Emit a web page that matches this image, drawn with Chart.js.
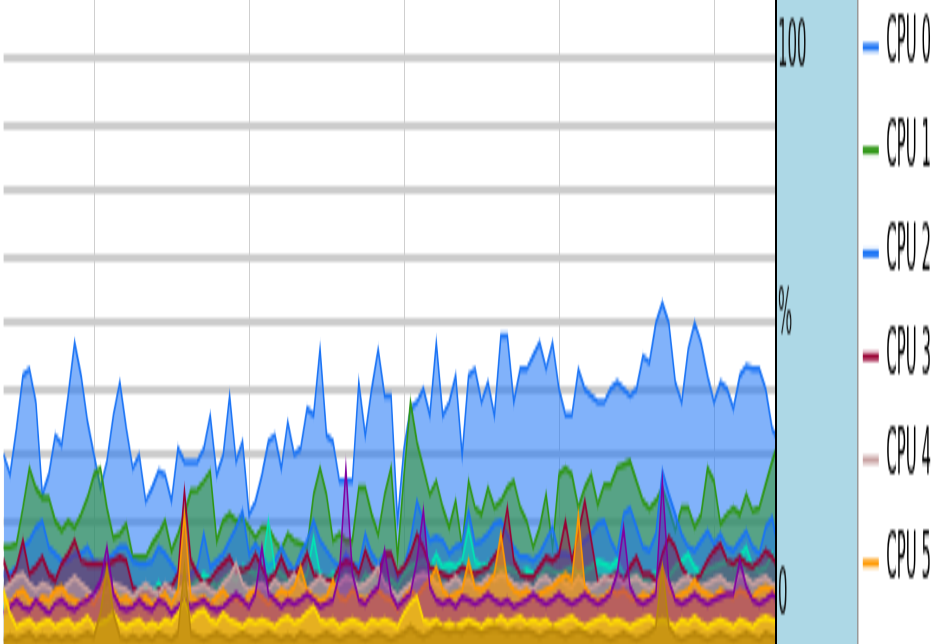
<!DOCTYPE html>
<html>
<head>
<meta charset="utf-8">
<title>CPU usage</title>
<script src="https://cdn.jsdelivr.net/npm/chart.js@4.4.0/dist/chart.umd.min.js"></script>
<style>
  html, body { margin: 0; padding: 0; background: #fff; width: 935px; height: 644px; overflow: hidden; }
  /* the original graph is a short strip that was stretched 4x in height (top slightly cropped) */
  #wrap { width: 935px; height: 168px; transform: translateY(-26px) scaleY(4); transform-origin: 0 0; }
</style>
</head>
<body>
<div id="wrap"><canvas id="cpuChart" width="935" height="168"></canvas></div>
<script>
var cpuNames = ['CPU 0', 'CPU 1', 'CPU 2', 'CPU 3', 'CPU 4', 'CPU 5', 'CPU 6', 'CPU 7', 'CPU 8', 'CPU 9'];

// % load per sample, 121 samples
var cpu0 = [30, 27, 34, 42, 43, 38, 24, 27, 33, 31.5,
  39, 47, 42, 35, 30, 25, 29, 36, 41, 34,
  28, 30, 23, 25, 27.5, 27, 23, 31, 29, 29,
  29, 31, 36, 27, 30, 39, 29, 32, 21, 23,
  27, 32, 33, 28, 35, 30, 31, 37, 36, 46,
  33, 32, 26, 26, 26, 41, 33, 40, 46, 39,
  39, 20, 31, 37, 38, 40, 36, 47, 36, 38,
  42, 30, 42, 43, 38, 41, 36, 48, 48, 38,
  43, 43, 45, 47, 43, 47, 40, 36, 36, 43,
  40, 39, 38, 38, 40, 41, 40, 39, 40, 45,
  44, 50, 53, 50, 41, 38, 46, 50, 47, 42,
  38, 41, 40, 37, 42, 43.5, 43, 43, 40, 34, 32];
var cpu1 = [16, 16, 16.5, 22, 28, 25, 23.5, 23.5, 20, 18.5,
  20, 19, 21, 23.5, 27, 28, 22, 17.5, 18, 19.5,
  14.5, 14.5, 14.5, 16.5, 18, 20, 15.5, 18, 21, 24.5,
  24.7, 26, 27.5, 17, 20, 21, 20, 20.5, 19, 17.5,
  19, 19, 17, 15.6, 18, 17, 16.5, 16, 24, 28,
  24, 17, 18, 17, 17, 25, 25, 21, 18, 24,
  28, 14.5, 27, 38, 32, 28, 24, 26, 22, 19,
  23, 16, 26, 22, 21, 25, 22, 23, 25, 26,
  22, 20, 16, 19, 24, 16, 27, 28, 27, 22,
  25, 27, 22.5, 25.5, 25.5, 28, 28.5, 29, 26, 23,
  21.8, 23, 25, 22, 18.6, 22, 22, 19, 21, 28,
  26, 19.5, 21, 22, 21, 24, 21.5, 22, 25.5, 29, 32];
var cpu2 = [12, 12, 13, 16, 17, 19, 20, 16, 15, 14,
  14, 15, 15, 16, 14, 13.5, 14, 15, 16, 16,
  14, 13.5, 13.5, 14, 16, 15, 13.5, 12, 11, 12,
  13, 18, 13, 14, 15, 17, 19, 21.5, 15, 16.5,
  15, 13, 14, 16, 14, 12.5, 15, 17, 20, 17,
  15.5, 14, 13, 15, 13.5, 13, 18, 15, 13.5, 15,
  15, 11, 13, 17, 23, 20, 17, 17.5, 17, 15,
  16, 16.5, 21.5, 16.5, 17, 18, 19.5, 20, 18, 16,
  14.5, 14.5, 14, 15, 17, 19, 15, 15, 14.5, 16,
  17, 18, 19.5, 20, 17, 15, 21, 22, 19, 16,
  15.5, 18, 27.5, 24, 21, 18, 16, 15.5, 17, 18.5,
  16.5, 18, 16, 15.5, 17, 18.5, 16, 15, 19, 20.5, 15.5];
var cpu3 = [14, 11, 13, 17, 12, 13, 14.5, 12, 11, 13.5,
  15, 17, 14, 13.5, 13.5, 13.5, 13.5, 14, 14.5, 14,
  10, 9, 9, 9, 9.5, 10, 10, 12, 24.5, 14,
  12, 10.5, 11, 12.5, 13.5, 14.5, 12.5, 12.5, 13, 15,
  13, 11, 12, 14.5, 12, 12, 13, 15, 12, 11.5,
  11, 11, 13, 14, 13.5, 12, 15.5, 13, 12, 15,
  15, 12, 13, 15, 18, 16, 13, 12.5, 12, 11.5,
  12, 13, 12.5, 12, 12.5, 13, 14.5, 16, 22, 14,
  12, 11.5, 11.5, 13, 14.5, 14, 15, 20, 14, 18,
  23, 17, 11, 11, 11.5, 12, 11, 13, 14.5, 12,
  12, 11, 15, 17.5, 16, 13, 11.5, 11, 12, 14,
  15.5, 16.5, 14, 13.5, 14.5, 13.5, 13, 14, 15.5, 14.5, 13];
var cpu4 = [9.5, 10.5, 11.5, 12, 10.5, 9.5, 10.5, 10, 9, 9.5,
  10.5, 11.5, 10.5, 9.5, 8.5, 9, 9.5, 10.5, 10, 9.5,
  8.5, 9.5, 10.5, 9.5, 9, 10.5, 9.5, 9, 10.5, 9.5,
  10, 10.5, 9.5, 9, 10.5, 11.5, 13.5, 10.5, 9.5, 10,
  10.5, 9.5, 11, 10, 10.5, 12, 10.5, 9.5, 10.5, 11.5,
  10.5, 10, 10.5, 11.5, 11, 10, 10.5, 11.5, 13, 10.5,
  9.5, 8.5, 9.5, 10.5, 11.5, 12, 11.5, 10.5, 10, 10.5,
  11.5, 10.5, 11, 10, 10.5, 11.5, 11, 12, 11.5, 10.5,
  10, 10.5, 9.5, 11, 11.5, 10.5, 11.5, 10.5, 10, 11.5,
  10.5, 10, 10.5, 11.5, 11, 11.5, 10.5, 11, 11.5, 10.5,
  10, 10.5, 11.5, 10.5, 10, 11, 11.5, 10.5, 10, 10.5,
  11, 11.5, 10.5, 10, 12, 11.5, 10.5, 11, 11.5, 10.5, 10];
var cpu5 = [8.5, 7.5, 9, 9.5, 8, 7.5, 8.5, 8, 9.5, 10,
  8.5, 8, 7.5, 8.5, 7.5, 9.5, 12, 9.5, 8, 8.5,
  7.5, 8, 8.5, 7.5, 8, 9, 7.5, 9.5, 21, 8.5,
  8, 8.5, 7.5, 8.5, 9.5, 8, 8.5, 7.5, 9, 9.5,
  8.5, 7.5, 8.5, 9.5, 9, 10, 13, 9.5, 8.5, 8,
  8.5, 11, 8.5, 8, 9.5, 8.5, 8, 9, 9.5, 8.5,
  8, 6.5, 8.5, 9.5, 8.5, 10, 11, 13, 9.5, 8.5,
  9, 9.5, 14, 10, 9.5, 10.5, 12, 18, 11, 9.5,
  9, 9.5, 8.5, 9, 9.5, 10, 11, 12, 11, 21,
  10, 8.5, 8, 8.5, 9.5, 9, 9.5, 8.5, 8, 9,
  8.5, 9.5, 13, 9.5, 8.5, 9, 9.5, 11, 9.5, 9,
  8.5, 9.5, 9, 8.5, 9.5, 9, 8.5, 9.5, 10, 9.5, 9];
var cpu6 = [7, 7, 8, 7.5, 8, 7, 8, 7.5, 8, 7,
  7.5, 8, 7, 8, 7.5, 8, 7, 8, 9, 8,
  8.5, 9, 10, 9, 10.5, 9, 8, 10, 9, 10,
  11, 12, 11, 10, 11, 12, 11, 13, 12.5, 12,
  13, 20, 13, 12, 11, 12, 11, 12, 17.5, 12,
  11, 12, 11, 12, 11, 10, 12, 11, 12, 11,
  11, 10, 12, 13, 13.5, 14, 13, 15, 13, 13.5,
  13, 14, 19, 14, 13, 13.5, 13, 12.5, 13, 12.5,
  12, 12.5, 12, 11.5, 13, 12.5, 12, 12.5, 13, 12,
  12.5, 13, 14, 13.5, 13, 14, 12, 11.5, 12, 11,
  11.5, 12, 12, 11.5, 13, 14, 15, 13, 12, 12.5,
  13, 13.5, 14, 13, 14.5, 16, 13, 12.5, 13, 15, 13];
var cpu7 = [6, 7, 8, 7, 6.5, 8, 7, 6, 7.5, 8,
  7, 6.5, 7.5, 8, 9, 11, 16, 9, 7, 6.5,
  7, 8, 7, 6.5, 8, 7.5, 6, 7, 8, 7,
  7.5, 8, 7, 6.5, 7, 8, 9, 8, 7, 9,
  16, 9, 8, 7, 8, 7.5, 8, 9, 8, 7,
  7.5, 8, 12, 28, 12, 8, 7.5, 9, 10, 15.5,
  9, 7, 8, 9, 14, 21.5, 10, 8, 7.5, 8,
  7, 8.5, 8, 7.5, 8, 9, 8, 7.5, 8, 7,
  7.5, 8, 9, 8, 7.5, 8, 9, 8, 7.5, 8,
  9, 8, 7.5, 8, 9, 12, 19, 10, 8, 7.5,
  8, 9, 26, 11, 8, 7.5, 8, 9, 8, 7.5,
  8, 8.5, 9, 9, 14, 10, 8, 7.5, 8, 9, 8];
var cpu8 = [9.5, 6, 4, 4.5, 5, 4, 4.5, 5, 4, 4.5,
  5, 4, 4.5, 5.5, 4, 4.5, 5, 6, 4.5, 4,
  4.5, 5, 4, 4.5, 4, 5, 4.5, 6, 8, 5,
  6, 6.5, 5, 4.5, 6, 5, 4.5, 4, 5, 4.5,
  5, 4.5, 4, 5, 5.5, 4.5, 5, 6, 7, 5,
  4.5, 5, 4, 4.5, 5, 4.5, 4, 5, 4.5, 5,
  4.5, 4, 6, 7.5, 8.5, 5, 4.5, 5, 4, 4.5,
  4, 4.5, 5, 4.5, 4, 5, 4.5, 5.5, 4.5, 5,
  5.5, 4.5, 5, 4.5, 5, 4, 4.5, 5, 5.5, 4.5,
  4, 4.5, 5, 5.5, 4.5, 5, 4.5, 4, 4.5, 5,
  5.5, 4.5, 5, 4.5, 4, 5, 4.5, 5.5, 4.5, 4,
  4.5, 5, 4.5, 4, 5, 4.5, 4, 5, 5.5, 5, 4.5];
var cpu9 = [2, 2.5, 2, 2.5, 3, 2, 2.5, 2, 2.5, 2,
  2.5, 2, 2.5, 3, 2.5, 6, 13, 6, 2.5, 2,
  2.5, 2, 2.5, 2, 3, 2.5, 2, 3, 13, 3,
  2.5, 2, 2.5, 3, 2.5, 2, 2.5, 3, 2.5, 2,
  2.5, 3, 2.5, 2, 2.5, 2, 3, 2.5, 2, 2.5,
  3, 2.5, 2, 2.5, 3, 2.5, 2, 2.5, 3, 2.5,
  2, 2.5, 3, 4, 3, 2.5, 3, 4, 3.5, 3,
  3.5, 3, 4, 3.5, 3, 3.5, 4, 3.5, 3, 3.5,
  3, 3.5, 3, 2.5, 3, 3.5, 3, 2.5, 3, 3.5,
  3, 2.5, 3, 2.5, 2, 2.5, 3, 2.5, 2, 2.5,
  3, 4, 13, 4, 2.5, 2, 2.5, 3, 2.5, 2,
  2.5, 3, 2.5, 2, 2.5, 3, 2.5, 2, 3, 2.5, 2];

var series = [cpu0, cpu1, cpu2, cpu3, cpu4, cpu5, cpu6, cpu7, cpu8, cpu9];
var yTicks = [10, 20, 30, 40, 50, 60, 70, 80, 90];
var xGridAt = [14, 38, 62, 86, 110];

var labels = [];
for (var i = 0; i < cpu0.length; i++) labels.push(i);

var colors = [[26, 115, 245], [46, 150, 20], [26, 115, 245], [153, 0, 51], [200, 160, 160],
  [255, 153, 0], [0, 230, 180], [128, 0, 160], [255, 220, 0], [184, 134, 11]];
var fillAlpha = [0.55, 0.5, 0.5, 0.4, 0.6, 0.6, 0.45, 0.35, 0.65, 0.6];
var drawOrder = [10, 9, 8, 6, 5, 4, 7, 3, 2, 1]; // higher = further back

function rgba(c, a) {
  return 'rgba(' + c[0] + ',' + c[1] + ',' + c[2] + ',' + a + ')';
}

var datasets = series.map(function(values, k) {
  return {
    label: cpuNames[k],
    data: values,
    borderColor: rgba(colors[k], 1),
    backgroundColor: rgba(colors[k], fillAlpha[k]),
    borderWidth: 1.5,
    pointRadius: 0,
    tension: 0,
    fill: 'origin',
    order: drawOrder[k]
  };
});

// light blue axis strip with its black edge, drawn over the last few px of the plot
var axisPanel = {
  id: 'axisPanel',
  afterDatasetsDraw: function(chart) {
    var ctx = chart.ctx, x0 = chart.chartArea.right - 3.6;
    ctx.save();
    ctx.fillStyle = '#add8e6';
    ctx.fillRect(x0, 0, 83, chart.height);
    ctx.fillStyle = '#000';
    ctx.fillRect(x0, 0, 2, chart.height);
    ctx.fillStyle = '#999999';
    ctx.fillRect(x0 + 82, 0, 1.5, chart.height);
    ctx.restore();
  },
  afterDraw: function(chart) {
    var ctx = chart.ctx, a = chart.chartArea, x0 = a.right - 3.6;
    ctx.save();
    ctx.font = '15px "DejaVu Sans"';
    ctx.fillStyle = '#111';
    ctx.textAlign = 'left';
    ctx.textBaseline = 'middle';
    ctx.fillText('100', x0 + 3, a.top + 19.25);
    ctx.fillText('%', x0 + 3, a.top + 85.75);
    ctx.fillText('0', x0 + 3, a.bottom - 11.5);
    ctx.restore();
  }
};

var ctx = document.getElementById('cpuChart').getContext('2d');
var cpuChart = new Chart(ctx, {
  type: 'line',
  data: { labels: labels, datasets: datasets },
  plugins: [axisPanel],
  options: {
    responsive: false,
    animation: false,
    devicePixelRatio: 1,
    events: [],
    layout: { padding: { left: 3.6, top: 0, right: 0, bottom: 0 } },
    scales: {
      x: {
        ticks: { display: false },
        border: { display: false },
        grid: {
          drawTicks: false,
          lineWidth: 1,
          color: function(c) { return xGridAt.indexOf(c.index) >= 0 ? '#cfcfcf' : 'rgba(0,0,0,0)'; }
        }
      },
      y: {
        position: 'right',
        min: 1.06,
        max: 102.88,
        afterBuildTicks: function(scale) {
          scale.ticks = yTicks.map(function(v) { return { value: v }; });
        },
        afterFit: function(scale) { scale.width = 73.4; },
        ticks: { display: false },
        grid: { drawTicks: false, color: '#cccccc', lineWidth: 2 },
        border: { display: false }
      }
    },
    plugins: {
      tooltip: { enabled: false },
      legend: {
        position: 'right',
        align: 'start',
        maxWidth: 83,
        labels: {
          font: { family: 'DejaVu Sans', size: 15 },
          color: '#000',
          boxWidth: 16,
          boxHeight: 2,
          padding: 10.8,
          filter: function(item) { return item.datasetIndex < 6; },
          sort: function(a, b) { return a.datasetIndex - b.datasetIndex; },
          generateLabels: function(chart) {
            var items = Chart.defaults.plugins.legend.labels.generateLabels(chart);
            items.forEach(function(it) {
              it.fillStyle = rgba(colors[it.datasetIndex], 1);
              it.strokeStyle = it.fillStyle;
              it.lineWidth = 0;
            });
            return items;
          }
        }
      }
    }
  }
});
</script>
</body>
</html>
